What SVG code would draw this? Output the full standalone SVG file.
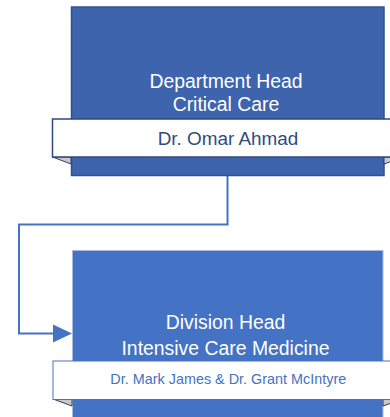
<svg xmlns="http://www.w3.org/2000/svg" width="390" height="417" viewBox="0 0 390 417">
<defs>
<style>
.t{font-family:"Liberation Sans",Arial,sans-serif;text-anchor:middle}
.wt{fill:#FFFFFF;font-size:19.4px}
.fold{fill:#C9C9C9;stroke:#2B3F66;stroke-width:1}
.conn{fill:none;stroke:#4472C4;stroke-width:2}
.head{fill:#4472C4}
</style>
</defs>
<rect width="390" height="417" fill="#FFFFFF"/>
<g id="connectors">
<path class="conn" d="M227.5,176 V224.5 H19 V333.5 H55"/>
<polygon class="head" points="53,324.5 72,333.5 53,342.5"/>
</g>
<g id="node-department-head">
<rect x="71.5" y="7" width="312.5" height="168.5" fill="#3E64AD" stroke="#2F528F" stroke-width="1.5"/>
<text class="t wt" x="226" y="87.5">Department Head</text>
<text class="t wt" x="226" y="111">Critical Care</text>
<polygon class="fold" points="52.5,157 71,157 71,164"/>
<polygon class="fold" points="404,157 384,157 384,164"/>
<rect x="52.5" y="119" width="351" height="38" fill="#FFFFFF" stroke="#2F4A7C" stroke-width="1.5"/>
<text class="t" x="228" y="145" font-size="18.9" fill="#2F4B7F">Dr. Omar Ahmad</text>
</g>
<g id="node-division-head">
<rect x="72.5" y="250.5" width="310.5" height="180" fill="#4472C4" stroke="#A8BBDF" stroke-width="1"/>
<text class="t wt" x="225.5" y="329.3">Division Head</text>
<text class="t wt" x="225.5" y="355">Intensive Care Medicine</text>
<polygon class="fold" points="53,399 72,399 72,406"/>
<polygon class="fold" points="403,399 383,399 383,406"/>
<rect x="53" y="361" width="350" height="38.5" fill="#FFFFFF" stroke="#4472C4" stroke-width="1"/>
<text class="t" x="228.3" y="384" font-size="14.4" fill="#4472C4">Dr. Mark James &amp; Dr. Grant McIntyre</text>
</g>
</svg>
